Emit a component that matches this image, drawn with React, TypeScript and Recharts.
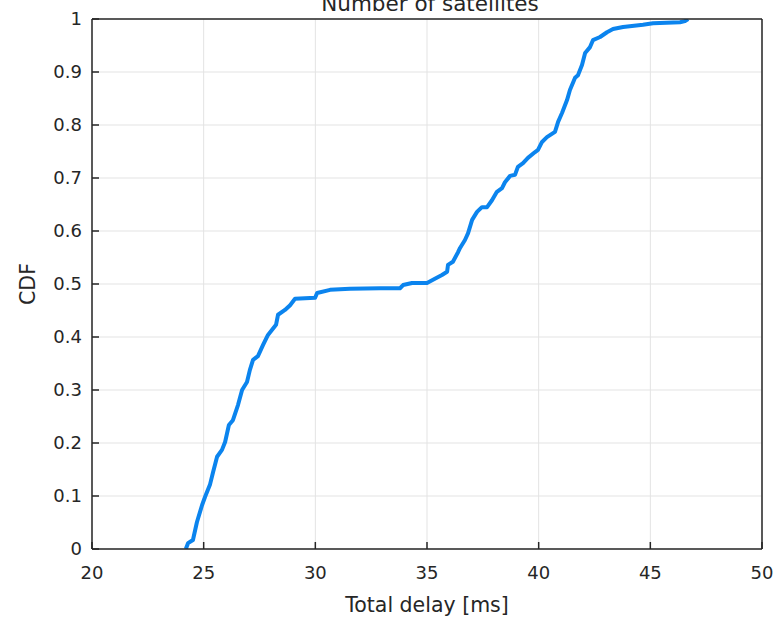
import React from 'react';
import { LineChart, Line, XAxis, YAxis, CartesianGrid, Label } from 'recharts';

const delays = [
  24.2, 24.3, 24.52, 24.7, 24.93, 25.06, 25.28, 25.42, 25.6, 25.82, 25.96, 26.13, 26.31, 26.54,
  26.72, 26.94, 27.07, 27.21, 27.43, 27.66, 27.88, 28.24, 28.33, 28.64, 28.87, 29.09, 29.99,
  30.08, 30.66, 31.55, 32.9, 33.79, 33.93, 34.33, 35.0, 35.27, 35.67, 35.9, 35.94, 36.16, 36.39,
  36.48, 36.7, 36.84, 37.02, 37.24, 37.46, 37.69, 37.91, 38.13, 38.36, 38.49, 38.72, 38.94,
  39.07, 39.3, 39.52, 39.84, 39.97, 40.15, 40.37, 40.73, 40.87, 41.05, 41.27, 41.4, 41.63,
  41.76, 41.94, 42.08, 42.3, 42.43, 42.75, 43.06, 43.33, 43.78, 44.67, 45.12, 46.33, 46.55, 46.69,
];
const cdf = [
  0, 0.011, 0.017, 0.051, 0.083, 0.098, 0.121, 0.145, 0.174, 0.187, 0.202, 0.234, 0.243, 0.272,
  0.3, 0.315, 0.338, 0.357, 0.364, 0.385, 0.404, 0.423, 0.442, 0.451, 0.46, 0.472, 0.474,
  0.483, 0.489, 0.491, 0.492, 0.492, 0.498, 0.502, 0.502, 0.508, 0.517, 0.523, 0.536, 0.542, 0.56,
  0.568, 0.583, 0.596, 0.621, 0.636, 0.645, 0.645, 0.658, 0.674, 0.681, 0.692, 0.704, 0.706,
  0.721, 0.728, 0.738, 0.749, 0.753, 0.768, 0.777, 0.787, 0.806, 0.823, 0.847, 0.866, 0.889,
  0.894, 0.913, 0.936, 0.947, 0.96, 0.966, 0.975, 0.981, 0.985, 0.989, 0.992, 0.994, 0.996, 1.0,
];
const xTicks = [20, 25, 30, 35, 40, 45, 50];
const yTicks = [0, 0.1, 0.2, 0.3, 0.4, 0.5, 0.6, 0.7, 0.8, 0.9, 1];
const title = 'Number of satellites';
const xLabel = 'Total delay [ms]';
const yLabel = 'CDF';

const data = delays.map((x, i) => ({ x, y: cdf[i] }));

const INK = '#262626';
const FONT = '"DejaVu Sans", sans-serif';
const baseTick = { fill: INK, fontSize: 18, fontFamily: FONT, stroke: 'none' };

export default function App() {
  return (
    <div style={{ position: 'absolute', left: 0, top: 0 }}>
      <LineChart
        width={776}
        height={617}
        data={data}
        margin={{ top: 19, right: 14, bottom: 68, left: 92 }}
      >
        <CartesianGrid stroke="#e3e3e3" strokeWidth={1} />
        <XAxis
          dataKey="x"
          type="number"
          domain={[20, 50]}
          ticks={xTicks}
          allowDataOverflow
          mirror
          height={30}
          tickSize={7}
          tickMargin={-37}
          stroke={INK}
          strokeWidth={1.5}
          tick={baseTick}
        >
          <Label
            content={() => (
              <text x={427} y={612} textAnchor="middle" fill={INK} fontSize={20.5} fontFamily={FONT}>
                {xLabel}
              </text>
            )}
          />
        </XAxis>
        <XAxis
          xAxisId="top"
          dataKey="x"
          orientation="top"
          type="number"
          domain={[20, 50]}
          ticks={xTicks}
          allowDataOverflow
          height={30}
          mirror
          tick={false}
          tickSize={7}
          stroke={INK}
          strokeWidth={1.5}
        >
          <Label
            content={() => (
              <text x={430} y={11} textAnchor="middle" fill={INK} fontSize={21.5} fontFamily={FONT}>
                {title}
              </text>
            )}
          />
        </XAxis>
        <YAxis
          dataKey="y"
          type="number"
          domain={[0, 1]}
          ticks={yTicks}
          allowDataOverflow
          mirror
          width={60}
          tickSize={7}
          tickMargin={-17}
          stroke={INK}
          strokeWidth={1.5}
          tick={{ ...baseTick, textAnchor: 'end' }}
        >
          <Label
            content={() => (
              <text
                x={28}
                y={284}
                transform="rotate(-90 28 284)"
                textAnchor="middle"
                dominantBaseline="central"
                fill={INK}
                fontSize={20.5}
                fontFamily={FONT}
              >
                {yLabel}
              </text>
            )}
          />
        </YAxis>
        <YAxis
          yAxisId="right"
          dataKey="y"
          orientation="right"
          type="number"
          domain={[0, 1]}
          ticks={yTicks}
          allowDataOverflow
          width={60}
          mirror
          tick={false}
          tickSize={7}
          stroke={INK}
          strokeWidth={1.5}
        />
        <Line
          type="linear"
          dataKey="y"
          stroke="#0B84EE"
          strokeWidth={4}
          strokeLinejoin="round"
          dot={false}
          isAnimationActive={false}
        />
      </LineChart>
    </div>
  );
}
